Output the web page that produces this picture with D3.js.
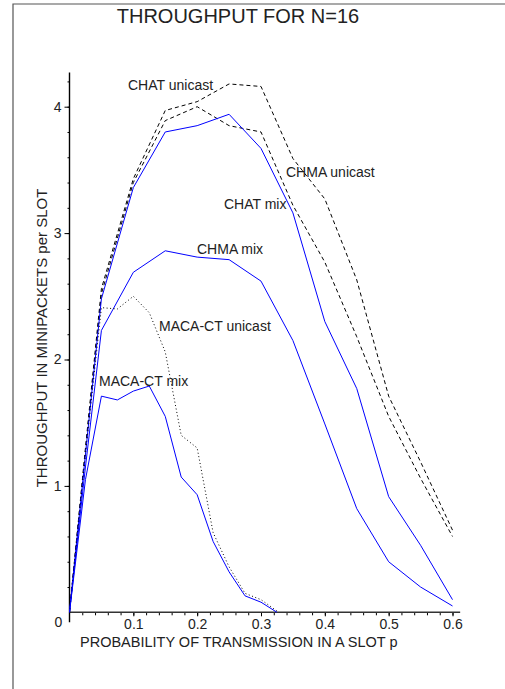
<!DOCTYPE html>
<html>
<head>
<meta charset="utf-8">
<script src="https://cdn.jsdelivr.net/npm/d3@7"></script>
<style>
  body { margin: 0; background: #fff; }
  text { font-family: "Liberation Sans", Arial, sans-serif; fill: #222; }
</style>
</head>
<body>
<script>
// Data
var pFull = [0, 0.025, 0.05, 0.1, 0.15, 0.2, 0.25, 0.3, 0.35, 0.4, 0.45, 0.5, 0.55, 0.6];
var pMaca = [0, 0.025, 0.05, 0.075, 0.1, 0.125, 0.15, 0.175, 0.2, 0.225, 0.25, 0.275, 0.3, 0.325];

var chatUnicast = [0, 1.30, 2.56, 3.43, 3.97, 4.04, 4.18, 4.16, 3.59, 3.27, 2.63, 1.71, 1.19, 0.65];
var chmaUnicast = [0, 1.28, 2.52, 3.40, 3.89, 4.00, 3.85, 3.80, 3.22, 2.77, 2.18, 1.55, 1.06, 0.60];
var chatMix     = [0, 1.25, 2.48, 3.36, 3.80, 3.85, 3.94, 3.67, 3.16, 2.30, 1.77, 0.915, 0.53, 0.10];
var chmaMix     = [0, 1.15, 2.23, 2.69, 2.86, 2.81, 2.79, 2.62, 2.15, 1.49, 0.82, 0.40, 0.20, 0.05];
var macaUnicast = [0, 1.25, 2.41, 2.40, 2.50, 2.37, 2.06, 1.40, 1.30, 0.63, 0.36, 0.15, 0.10, 0.01];
var macaMix     = [0, 1.05, 1.71, 1.68, 1.75, 1.79, 1.55, 1.07, 0.93, 0.56, 0.32, 0.13, 0.08, 0];

var xTicks = [0.1, 0.2, 0.3, 0.4, 0.5, 0.6];
var yTicks = [1, 2, 3, 4];

var width = 505, height = 689;

var svg = d3.select("body").append("svg")
    .attr("width", width)
    .attr("height", height);

// frame (top + left edge)
svg.append("path")
    .attr("d", "M13,689V4H505")
    .attr("fill", "none")
    .attr("stroke", "#555")
    .attr("stroke-width", 1.2);

var xScale = d3.scaleLinear().domain([0, 0.6]).range([69.5, 452.5]);
var yScale = d3.scaleLinear().domain([0, 4]).range([612.3, 106.7]);

// Axes
var xAxis = svg.append("g").attr("transform", "translate(0," + yScale(0) + ")");
xAxis.call(d3.axisBottom(xScale).tickValues(xTicks).tickSize(4).tickPadding(3)
    .tickFormat(d3.format(".1f")));
xAxis.append("g").call(d3.axisBottom(xScale)
    .tickValues(d3.range(0.02, 0.611, 0.02)).tickSize(3).tickFormat(""));
xAxis.selectAll(".domain").remove();
xAxis.append("line")
    .attr("x1", xScale(0)).attr("x2", xScale(0.612))
    .attr("stroke", "#333").attr("stroke-width", 1.6);
xAxis.selectAll("text").style("font-size", "14px")
    .style("font-family", "Liberation Sans, Arial, sans-serif").attr("fill", "#222");

var yAxis = svg.append("g").attr("transform", "translate(" + xScale(0) + ",0)");
yAxis.call(d3.axisLeft(yScale).tickValues(yTicks).tickSize(5).tickPadding(3)
    .tickFormat(d3.format("d")));
yAxis.append("g").call(d3.axisLeft(yScale)
    .tickValues(d3.range(0.2, 4.21, 0.2)).tickSize(2).tickFormat(""));
yAxis.selectAll(".domain").remove();
yAxis.append("line")
    .attr("y1", yScale(0) + 10).attr("y2", yScale(4.27))
    .attr("stroke", "#000").attr("stroke-width", 1.4);
yAxis.selectAll("text").style("font-size", "14px")
    .style("font-family", "Liberation Sans, Arial, sans-serif").attr("fill", "#222");

// shared zero
svg.append("text")
    .attr("x", xScale(0) - 11).attr("y", yScale(0) + 15)
    .attr("text-anchor", "middle")
    .style("font-size", "14px")
    .text("0");

// Curves
var series = [
    {x: pFull, y: chatUnicast, color: "#000", dash: "4,3"},
    {x: pFull, y: chmaUnicast, color: "#000", dash: "4,3"},
    {x: pFull, y: chatMix, color: "#0000ff", dash: null},
    {x: pFull, y: chmaMix, color: "#0000ff", dash: null},
    {x: pMaca, y: macaUnicast, color: "#000", dash: "1,2.5"},
    {x: pMaca, y: macaMix, color: "#0000ff", dash: null}
];

var line = d3.line()
    .x(function(d) { return xScale(d[0]); })
    .y(function(d) { return yScale(d[1]); });

series.forEach(function(s) {
    svg.append("path")
        .datum(d3.zip(s.x, s.y))
        .attr("d", line)
        .attr("fill", "none")
        .attr("stroke", s.color)
        .attr("stroke-width", 1)
        .attr("stroke-dasharray", s.dash);
});

// Curve labels
var labels = [
    {t: "CHAT unicast", x: 128, y: 90},
    {t: "CHMA unicast", x: 286, y: 177},
    {t: "CHAT mix", x: 224, y: 209},
    {t: "CHMA mix", x: 197, y: 254},
    {t: "MACA-CT unicast", x: 159, y: 331},
    {t: "MACA-CT mix", x: 99, y: 386}
];
svg.selectAll(".lbl").data(labels).enter().append("text")
    .attr("class", "lbl")
    .attr("x", function(d) { return d.x; })
    .attr("y", function(d) { return d.y; })
    .style("font-size", "14px")
    .text(function(d) { return d.t; });

// Titles
svg.append("text")
    .attr("x", 238).attr("y", 23)
    .attr("text-anchor", "middle")
    .style("font-size", "20px")
    .text("THROUGHPUT FOR N=16");

svg.append("text")
    .attr("x", 80).attr("y", 647)
    .style("font-size", "14.5px")
    .text("PROBABILITY OF TRANSMISSION IN A SLOT p");

svg.append("text")
    .attr("transform", "translate(47,338) rotate(-90)")
    .attr("text-anchor", "middle")
    .style("font-size", "15px")
    .text("THROUGHPUT IN MINIPACKETS per SLOT");
</script>
</body>
</html>
